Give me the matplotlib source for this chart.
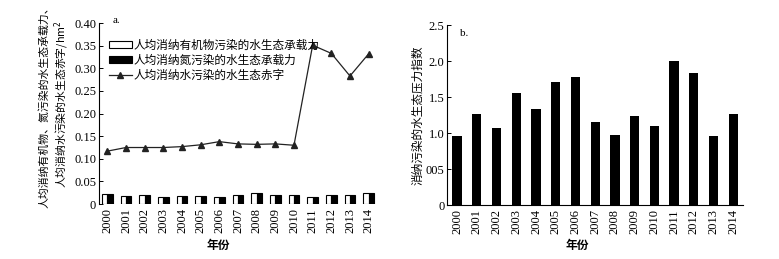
import matplotlib
matplotlib.use("Agg")
import matplotlib.pyplot as plt
import numpy as np
from matplotlib.patches import Patch
from matplotlib.lines import Line2D

plt.rcParams['font.family'] = ['Liberation Serif', 'Noto Sans CJK SC']
CJK = ['Noto Sans CJK SC', 'DejaVu Sans']

years = [str(y) for y in range(2000, 2015)]
organic_cap = [0.023, 0.018, 0.021, 0.016, 0.018, 0.018, 0.016, 0.021, 0.025, 0.019, 0.020, 0.015, 0.020, 0.020, 0.025]
nitrogen_cap = [0.023, 0.018, 0.021, 0.016, 0.018, 0.018, 0.016, 0.021, 0.025, 0.019, 0.020, 0.015, 0.020, 0.020, 0.025]
deficit = [0.117, 0.125, 0.125, 0.125, 0.127, 0.131, 0.138, 0.133, 0.132, 0.133, 0.130, 0.351, 0.333, 0.283, 0.332]
pressure = [0.955, 1.27, 1.067, 1.563, 1.34, 1.707, 1.786, 1.16, 0.979, 1.243, 1.095, 2.008, 1.841, 0.955, 1.27]

a_ticks = [0, 0.05, 0.10, 0.15, 0.20, 0.25, 0.30, 0.35, 0.40]
a_ticklabels = ["0", "0.05", "0.10", "0.15", "0.20", "0.25", "0.30", "0.35", "0.40"]
b_ticks = [0, 0.5, 1.0, 1.5, 2.0, 2.5]
b_ticklabels = ["0", "005", "1.0", "1.5", "2.0", "2.5"]

lbl_org = "人均消纳有机物污染的水生态承载力"
lbl_nit = "人均消纳氮污染的水生态承载力"
lbl_def = "人均消纳水污染的水生态赤字"

fig = plt.figure(figsize=(7.79, 2.59), dpi=100)
ax1 = fig.add_axes([0.127, 0.212, 0.357, 0.699])
ax2 = fig.add_axes([0.574, 0.208, 0.380, 0.695])

x = np.arange(len(years))
w = 0.28
ax1.bar(x - w / 2, organic_cap, w, color="white", edgecolor="black", lw=0.8)
ax1.bar(x + w / 2, nitrogen_cap, w, color="black", edgecolor="black", lw=0.8)
ax1.plot(x, deficit, color="#222222", lw=0.9, marker="^", ms=4)
ax1.set_xlim(-0.45, 14.45); ax1.set_ylim(0, 0.40)
ax1.set_yticks(a_ticks); ax1.set_yticklabels(a_ticklabels)
ax1.set_xticks(x); ax1.set_xticklabels(years, rotation=90)
for s in ["top", "right", "bottom"]: ax1.spines[s].set_visible(False)
ax1.tick_params(axis="y", direction="in", length=3, width=0.7, labelsize=9, pad=2)
ax1.tick_params(axis="x", length=0, labelsize=9, pad=3)
ax1.set_ylabel("人均消纳有机物、氮污染的水生态承载力、\n人均消纳水污染的水生态赤字/hm$^2$",
               fontsize=7.8, family=CJK, linespacing=1.3)
ax1.yaxis.set_label_coords(-0.10, 0.55)
ax1.set_xlabel("年份", fontsize=8.5, family=CJK, fontweight="bold")
ax1.xaxis.set_label_coords(0.43, -0.19)
ax1.text(0.05, 1.04, "a.", transform=ax1.transAxes, fontsize=8, va="top")
handles = [Patch(facecolor="white", edgecolor="black", lw=0.8),
           Patch(facecolor="black", edgecolor="black", lw=0.8),
           Line2D([], [], color="#222222", lw=0.9, marker="^", ms=4)]
ax1.legend(handles, [lbl_org, lbl_nit, lbl_def], loc="upper left", bbox_to_anchor=(0.035, 0.915),
           frameon=False, prop={"family": CJK, "size": 8.4}, handlelength=2.0, handleheight=0.6,
           handletextpad=0.15, labelspacing=0.2, borderaxespad=0, borderpad=0)

ax2.bar(x, pressure, 0.47, color="black")
ax2.set_xlim(-0.5, 14.5); ax2.set_ylim(0, 2.5)
ax2.set_yticks(b_ticks); ax2.set_yticklabels(b_ticklabels)
ax2.set_xticks(x); ax2.set_xticklabels(years, rotation=90)
for s in ["top", "right"]: ax2.spines[s].set_visible(False)
ax2.tick_params(axis="y", direction="in", length=3, width=0.7, labelsize=9, pad=2)
ax2.tick_params(axis="x", length=0, labelsize=9, pad=3)
ax2.set_ylabel("消纳污染的水生态压力指数", fontsize=8.4, family=CJK)
ax2.yaxis.set_label_coords(-0.078, 0.5)
ax2.set_xlabel("年份", fontsize=8.5, family=CJK, fontweight="bold")
ax2.xaxis.set_label_coords(0.44, -0.19)
ax2.text(0.045, 0.98, "b.", transform=ax2.transAxes, fontsize=8, va="top")

fig.savefig("out.png", dpi=100)
